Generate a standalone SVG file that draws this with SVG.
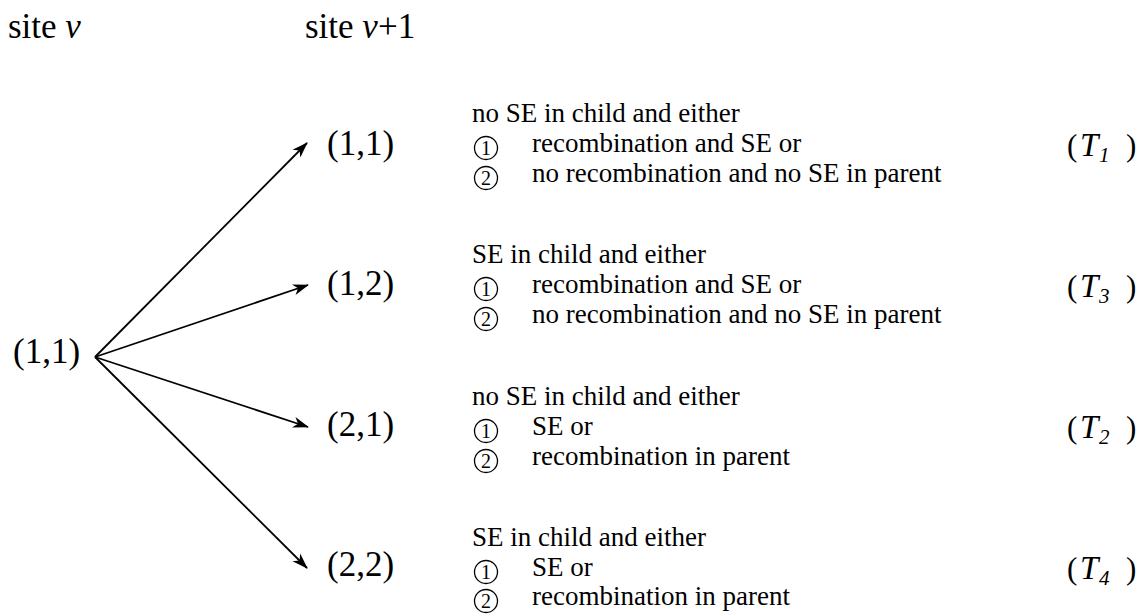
<svg xmlns="http://www.w3.org/2000/svg" width="1145" height="614" viewBox="0 0 1145 614">
<style>
text{font-family:"Liberation Serif","Times New Roman",serif;fill:#000}
.hd{font-size:35px}
.nd{font-size:35px}
.tx{font-size:27px}
.cn{font-size:20px;text-anchor:middle}
.cc{fill:none;stroke:#000;stroke-width:1.3}
.tl{font-size:31px}
.tt{font-size:33px;font-style:italic}
.it{font-style:italic}
.sub{font-style:italic;font-size:21px}
.arr{stroke:#000;stroke-width:1.8;fill:none;marker-end:url(#ah)}
</style>
<defs>
<marker id="ah" markerUnits="userSpaceOnUse" markerWidth="17" markerHeight="12" refX="15" refY="6" orient="auto" viewBox="0 0 17 12">
<path d="M0,0.5 L16,6 L0,11.5 L4.5,6 Z" fill="#000"/>
</marker>
<g id="c1"><circle class="cc" cx="0" cy="0" r="11.5"/><text class="cn" x="0" y="7">1</text></g>
<g id="c2"><circle class="cc" cx="0" cy="0" r="11.5"/><text class="cn" x="0" y="7">2</text></g>
</defs>
<rect width="1145" height="614" fill="#fff"/>
<g id="headers">
<text class="hd" x="8" y="38">site <tspan class="it">v</tspan></text>
<text class="hd" x="305" y="38">site <tspan class="it">v</tspan>+1</text>
</g>
<g id="connectors">
<line class="arr" x1="95" y1="357" x2="307" y2="143"/>
<line class="arr" x1="95" y1="357" x2="308" y2="285"/>
<line class="arr" x1="95" y1="357" x2="308" y2="427"/>
<line class="arr" x1="95" y1="357" x2="307" y2="568"/>
</g>
<g id="node-src"><text class="nd" x="13" y="363">(1,1)</text></g>
<g id="node-11"><text class="nd" x="327" y="155">(1,1)</text></g>
<g id="node-12"><text class="nd" x="327" y="295">(1,2)</text></g>
<g id="node-21"><text class="nd" x="327" y="436">(2,1)</text></g>
<g id="node-22"><text class="nd" x="327" y="576">(2,2)</text></g>
<g id="desc-T1">
<text class="tx" x="472" y="122">no SE in child and either</text>
<use href="#c1" x="486" y="148"/><text class="tx" x="532" y="152">recombination and SE or</text>
<use href="#c2" x="486" y="178"/><text class="tx" x="532" y="182">no recombination and no SE in parent</text>
<text class="tl" x="1067" y="156">(</text><text class="tt" x="1080" y="156">T</text><text class="sub" x="1099" y="162">1</text><text class="tl" x="1126" y="156">)</text>
</g>
<g id="desc-T3">
<text class="tx" x="472" y="263">SE in child and either</text>
<use href="#c1" x="486" y="289"/><text class="tx" x="532" y="293">recombination and SE or</text>
<use href="#c2" x="486" y="319"/><text class="tx" x="532" y="323">no recombination and no SE in parent</text>
<text class="tl" x="1067" y="297">(</text><text class="tt" x="1080" y="297">T</text><text class="sub" x="1099" y="303">3</text><text class="tl" x="1126" y="297">)</text>
</g>
<g id="desc-T2">
<text class="tx" x="472" y="405">no SE in child and either</text>
<use href="#c1" x="486" y="431"/><text class="tx" x="532" y="435">SE or</text>
<use href="#c2" x="486" y="461"/><text class="tx" x="532" y="465">recombination in parent</text>
<text class="tl" x="1067" y="438">(</text><text class="tt" x="1080" y="438">T</text><text class="sub" x="1099" y="444">2</text><text class="tl" x="1126" y="438">)</text>
</g>
<g id="desc-T4">
<text class="tx" x="472" y="546">SE in child and either</text>
<use href="#c1" x="486" y="572"/><text class="tx" x="532" y="576">SE or</text>
<use href="#c2" x="486" y="601"/><text class="tx" x="532" y="605">recombination in parent</text>
<text class="tl" x="1067" y="579">(</text><text class="tt" x="1080" y="579">T</text><text class="sub" x="1099" y="585">4</text><text class="tl" x="1126" y="579">)</text>
</g>
</svg>
